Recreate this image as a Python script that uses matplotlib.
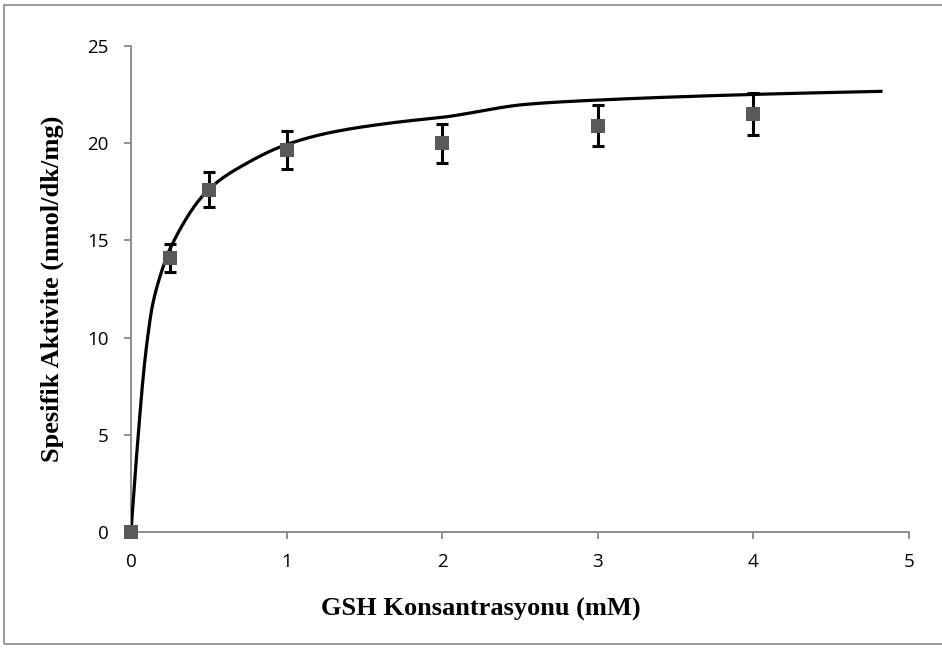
import numpy as np
import matplotlib
matplotlib.use("Agg")
import matplotlib.pyplot as plt
from matplotlib.patches import Rectangle

# Measured specific activity at each GSH concentration
gsh_mm = [0, 0.25, 0.5, 1, 2, 3, 4]
activity = [0.0, 14.1, 17.6, 19.65, 20.0, 20.9, 21.5]
activity_err = [0.0, 0.7, 0.9, 1.0, 1.0, 1.05, 1.1]

# Saturation curve points
curve_x = [0, 0.02, 0.047, 0.081, 0.107, 0.137, 0.193, 0.25, 0.5, 0.74,
           1.0, 1.3, 1.73, 2.0, 2.54, 3.0, 4.0, 4.83]
curve_y = [0, 2.2, 5.0, 8.17, 10.0, 11.6, 13.3, 14.55, 17.62, 18.95,
           19.93, 20.58, 21.1, 21.33, 22.0, 22.22, 22.51, 22.67]

x_ticks = [0, 1, 2, 3, 4, 5]
y_ticks = [0, 5, 10, 15, 20, 25]


def smooth_line(xs, ys, n=40):
    """Monotone cubic (Fritsch-Carlson) rendering of a polyline."""
    xs = np.asarray(xs, float)
    ys = np.asarray(ys, float)
    h = np.diff(xs)
    d = np.diff(ys) / h
    m = np.zeros_like(xs)
    m[0], m[-1] = d[0], d[-1]
    for i in range(1, len(xs) - 1):
        if d[i - 1] * d[i] <= 0:
            m[i] = 0
        else:
            w1 = 2 * h[i] + h[i - 1]
            w2 = h[i] + 2 * h[i - 1]
            m[i] = (w1 + w2) / (w1 / d[i - 1] + w2 / d[i])
    out_x, out_y = [], []
    for i in range(len(xs) - 1):
        t = np.linspace(0, 1, n, endpoint=False)
        h00 = 2 * t**3 - 3 * t**2 + 1
        h10 = t**3 - 2 * t**2 + t
        h01 = -2 * t**3 + 3 * t**2
        h11 = t**3 - t**2
        out_x.extend(xs[i] + t * h[i])
        out_y.extend(h00 * ys[i] + h10 * h[i] * m[i] + h01 * ys[i + 1] + h11 * h[i] * m[i + 1])
    out_x.append(xs[-1])
    out_y.append(ys[-1])
    return out_x, out_y


fig = plt.figure(figsize=(9.42, 6.48), dpi=100)
ax = fig.add_axes([0.139, 0.179, 0.826, 0.750])

# chart frame
fig.patches.append(Rectangle((4 / 942, 4 / 648), 1.2, 643 / 648 - 4 / 648,
                             transform=fig.transFigure, fill=False,
                             edgecolor="#8a8a8a", linewidth=1.2))

sx, sy = smooth_line(curve_x, curve_y)
ax.plot(sx, sy, color="black", linewidth=2.3, zorder=3, solid_capstyle="butt")

ax.errorbar(gsh_mm, activity, yerr=activity_err, fmt="none", ecolor="black",
            elinewidth=2.2, capsize=4.3, capthick=2.2, zorder=4)
ax.plot(gsh_mm, activity, linestyle="none", marker="s", markersize=10,
        color="#595959", markeredgewidth=0, zorder=5, clip_on=False)

ax.set_xlim(0, 5)
ax.set_ylim(0, 25)
ax.set_xticks(x_ticks)
ax.set_yticks(y_ticks)

for side in ("top", "right"):
    ax.spines[side].set_visible(False)
for side in ("left", "bottom"):
    ax.spines[side].set_color("#868686")
    ax.spines[side].set_linewidth(1.3)

ax.tick_params(axis="both", direction="out", length=5, width=1.3,
               color="#868686", labelsize=13.5, labelcolor="black")
ax.tick_params(axis="x", pad=10)
ax.tick_params(axis="y", pad=11)
for lab in ax.get_xticklabels() + ax.get_yticklabels():
    lab.set_family("Open Sans")

label_font = dict(family="Liberation Serif", weight="bold", size=19)
ax.set_xlabel("GSH Konsantrasyonu (mM)", **label_font)
ax.set_ylabel("Spesifik Aktivite (nmol/dk/mg)", labelpad=17, **label_font)
ax.xaxis.set_label_coords(0.45, -0.135)

fig.savefig("out.png", dpi=100)
